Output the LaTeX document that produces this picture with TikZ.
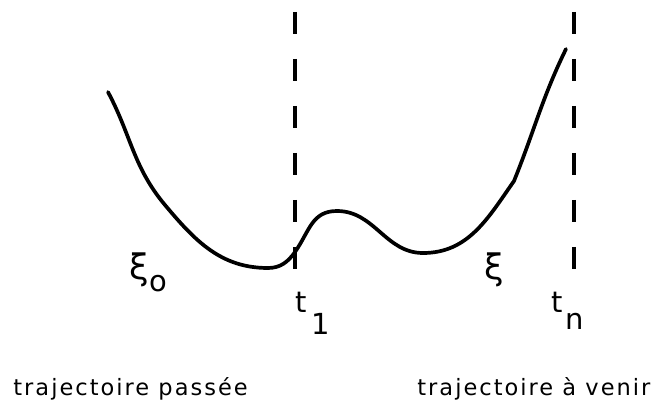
\documentclass[tikz,border=0pt]{standalone}
\usepackage{fontspec}
\setmainfont{DejaVu Sans}
\newfontfamily\trajfont[LetterSpace=9]{DejaVu Sans}
\newcommand{\grandxi}{{\fontsize{20}{22}\selectfont ξ}}

\begin{document}
\begin{tikzpicture}[x=0.02cm, y=0.02cm,
        trajet/.style={line width=2.1pt, line cap=round},
        limite/.style={line width=2.1pt, dash pattern=on 0.45cm off 0.49cm},
        etiquette/.style={inner sep=0pt, anchor=base west, font=\fontsize{16.5}{19}\selectfont},
        legende/.style={inner sep=0pt, anchor=base west, font=\fontsize{12.8}{15}\trajfont}]
        \useasboundingbox (0,0) rectangle (663,410);

            \coordinate (haut1) at (295,398);
            \coordinate (bas1) at (295,137);
            \coordinate (hautn) at (574,398);
            \coordinate (basn) at (574,137);

            \coordinate (a) at (108,318);
            \coordinate (p) at (165,205);
            \coordinate (b) at (268,142);
            \coordinate (c) at (295,158);
            \coordinate (d) at (337,199);
            \coordinate (e) at (423,157);
            \coordinate (g) at (514,229);
            \coordinate (f) at (566,361);

            \draw[limite] (haut1) -- (bas1);
            \draw[limite] (hautn) -- (basn);

            \draw[trajet] (a) to[out=-62, in=130] (p)
                to[out=-50, in=180] (b)
                to[out=0, in=-125] (c)
                to[out=55, in=180, looseness=1.1] (d)
                to[out=0, in=180] (e)
                to[out=0, in=-125] (g)
                to[out=68, in=-116] (f);

            \node[etiquette] (xio) at (129,131) {\grandxi\kern0.5pt\raisebox{-7pt}{o}};
            \node[etiquette] (t1) at (295,98) {t\kern2.5pt\raisebox{-13pt}{1}};
            \node[etiquette] (xi) at (484,131) {\grandxi};
            \node[etiquette] (tn) at (551,98) {t\kern1.5pt\raisebox{-10pt}{n}};

            \node[legende] (passee) at (13,15) {trajectoire passée};
            \node[legende] (avenir) at (417,15) {trajectoire à venir};
        \end{tikzpicture}
\end{document}
